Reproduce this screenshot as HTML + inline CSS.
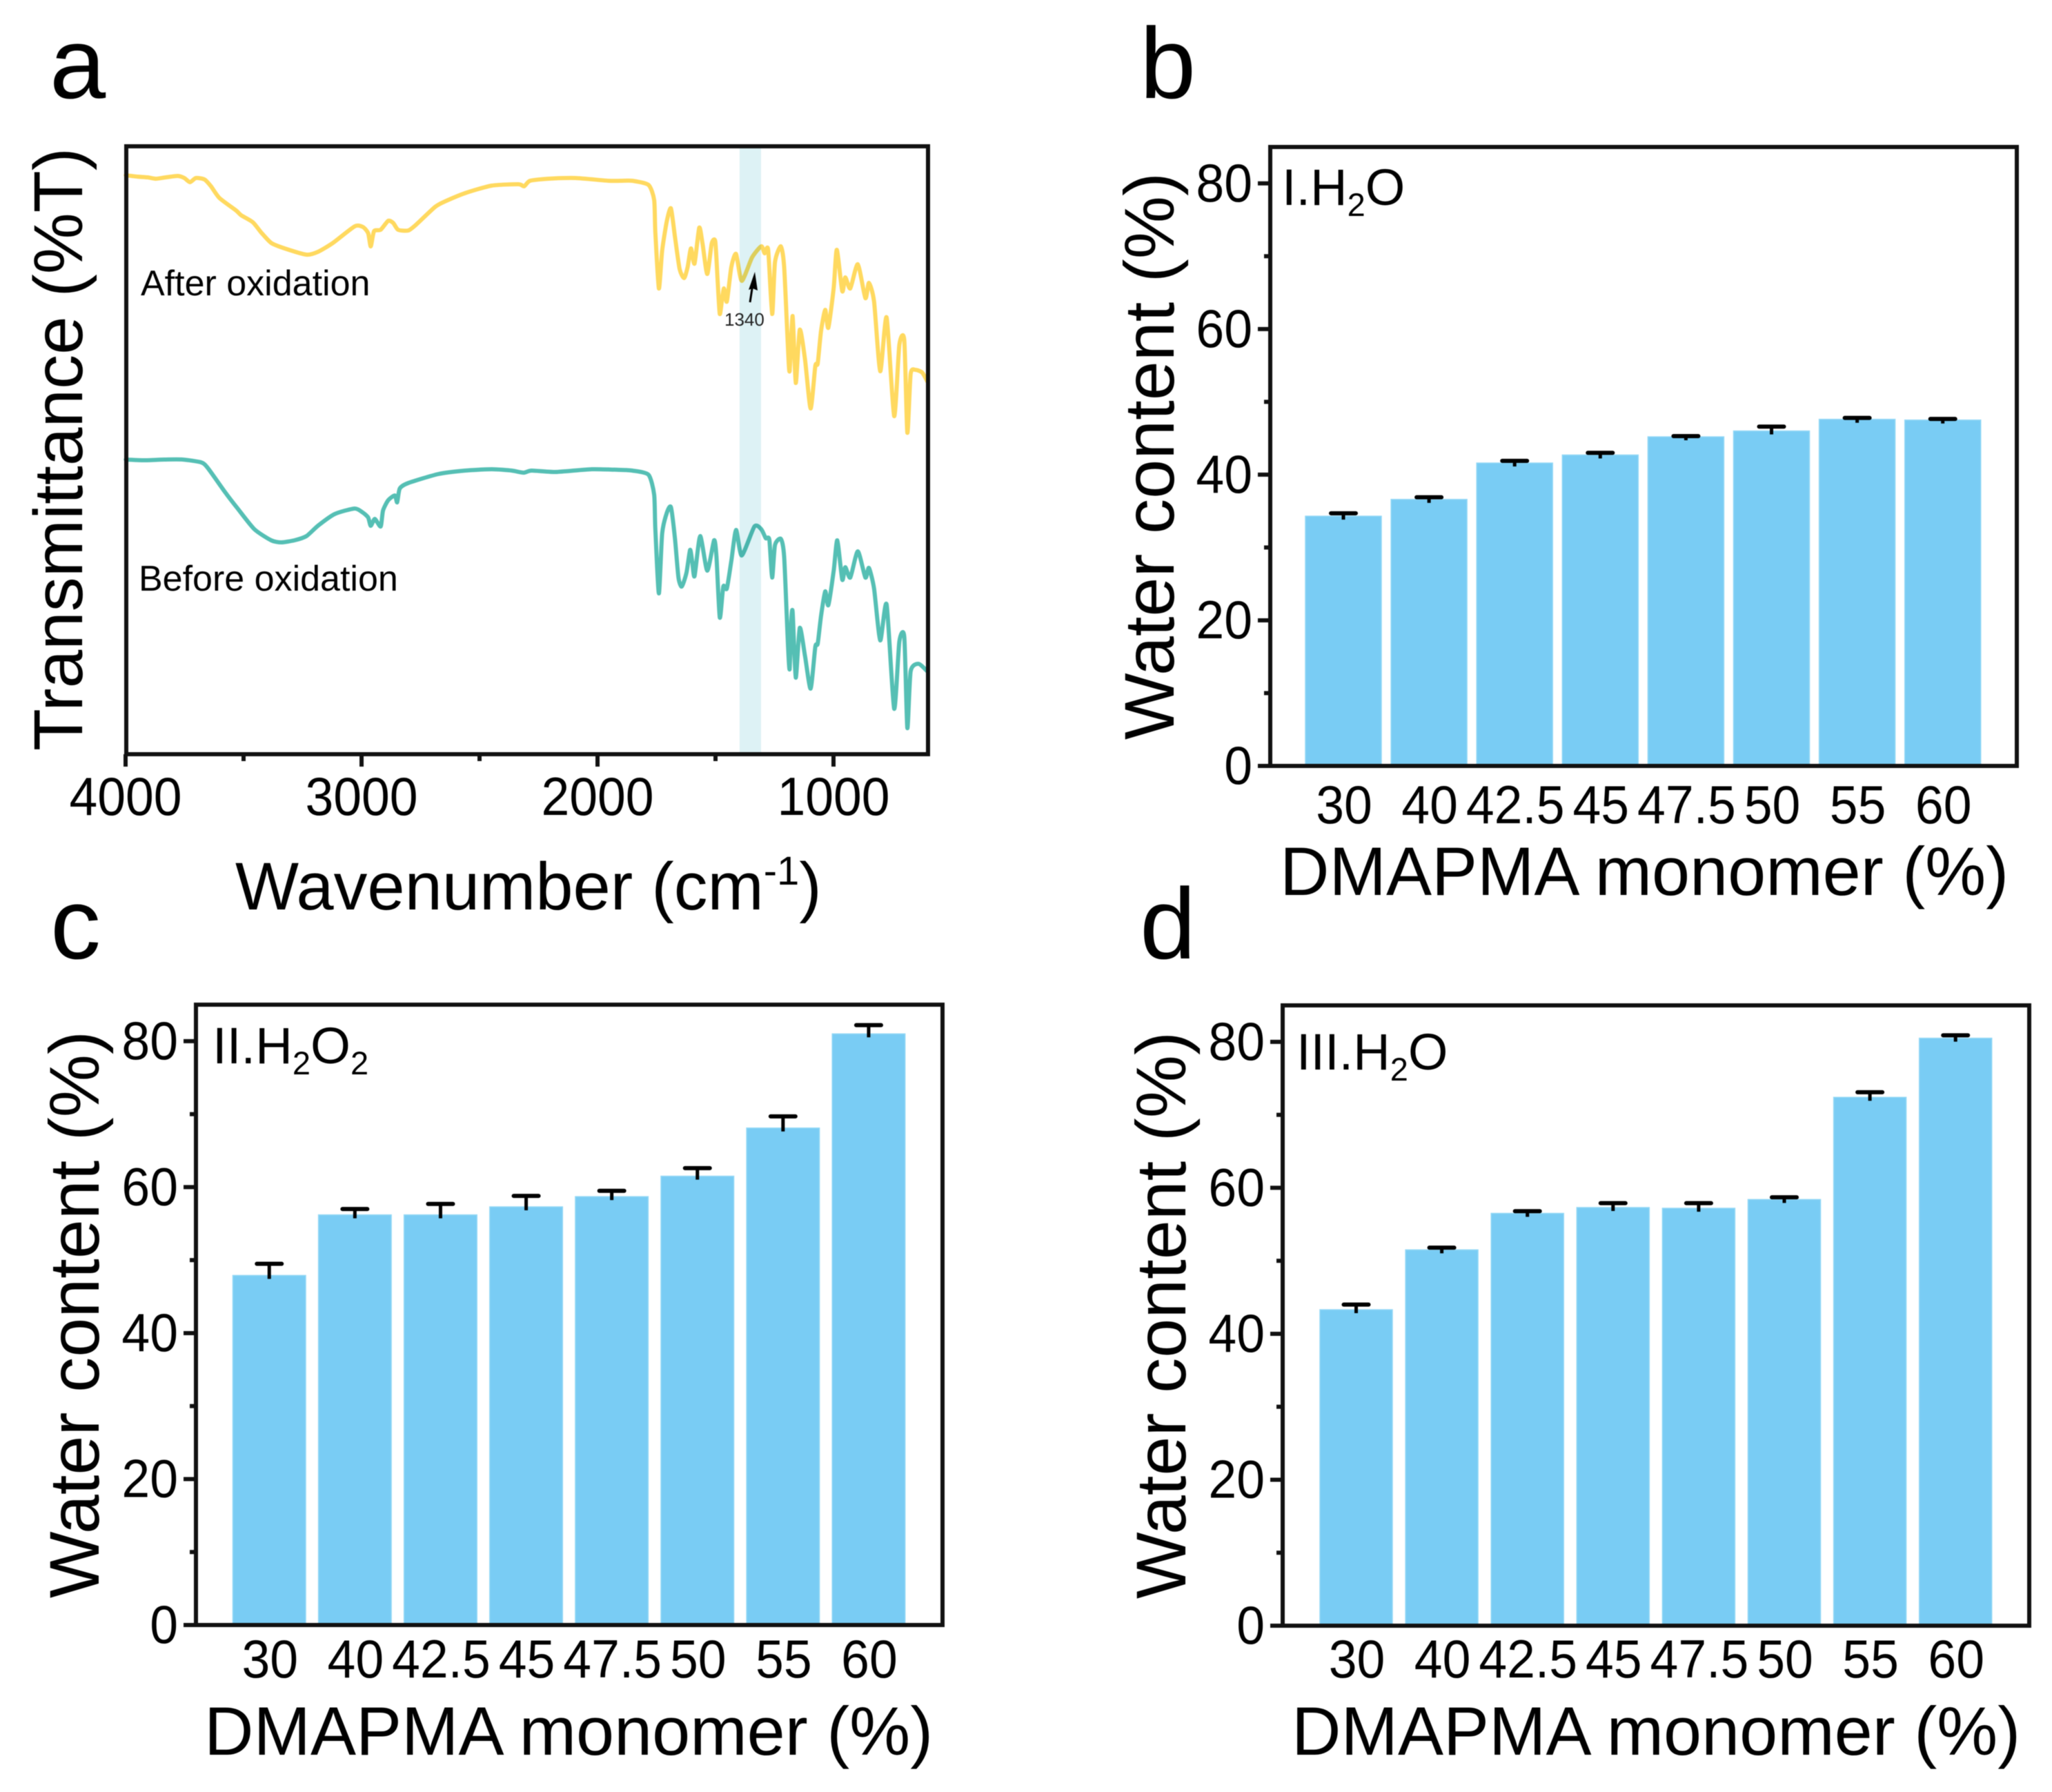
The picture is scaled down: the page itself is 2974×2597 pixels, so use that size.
<!DOCTYPE html>
<html lang="en">
<head>
<meta charset="utf-8">
<title>Transmittance spectra and water content charts</title>
<style>
html,body{margin:0;padding:0;background:#fff;}
svg{display:block;font-family:"Liberation Sans",sans-serif;fill:#000;filter:blur(0.6px);}
</style>
</head>
<body>
<svg id="fig" xmlns="http://www.w3.org/2000/svg" width="2974" height="2597" viewBox="0 0 2974 2597">
  <rect x="0" y="0" width="2974" height="2597" fill="#fff"/>
  <text x="72" y="142" font-size="146">a</text>
  <text x="1652" y="142" font-size="146">b</text>
  <text x="73" y="1389" font-size="146">c</text>
  <text x="1652" y="1389" font-size="146">d</text>

  <g id="panel-a"></g>
  <g id="panel-b"></g>
  <g id="panel-c"></g>
  <g id="panel-d"></g>

  <text transform="translate(119,651) rotate(-90)" text-anchor="middle" font-size="100">Transmittance (%T)</text>
  <text x="341" y="1318" font-size="97.5">Wavenumber (cm<tspan font-size="58" dy="-36">-1</tspan><tspan dy="36">)</tspan></text>
  <text x="204" y="428" font-size="52">After oxidation</text>
  <text x="201" y="856" font-size="52">Before oxidation</text>
  <text x="1050" y="472" font-size="26" fill="#222">1340</text>
  <g>
    <line x1="1087" y1="438" x2="1091" y2="412" stroke="#000" stroke-width="3"/>
    <polygon points="1094,394 1098,421 1091,418 1085,420" fill="#000"/>
  </g>

  <text transform="translate(1701,661) rotate(-90)" text-anchor="middle" font-size="102.5">Water content (%)</text>
  <text x="1855" y="1297" font-size="99">DMAPMA monomer (%)</text>
  <text x="1858" y="297" font-size="74">I.H<tspan font-size="47" dy="16">2</tspan><tspan dy="-16">O</tspan></text>

  <text transform="translate(143,1905) rotate(-90)" text-anchor="middle" font-size="102.5">Water content (%)</text>
  <text x="296" y="2543" font-size="99">DMAPMA monomer (%)</text>
  <text x="308" y="1541" font-size="74.5">II.H<tspan font-size="47" dy="16">2</tspan><tspan dy="-16">O</tspan><tspan font-size="47" dy="16">2</tspan></text>

  <text transform="translate(1718,1906) rotate(-90)" text-anchor="middle" font-size="102.5">Water content (%)</text>
  <text x="1872" y="2543" font-size="99">DMAPMA monomer (%)</text>
  <text x="1879" y="1550" font-size="74">III.H<tspan font-size="47" dy="16">2</tspan><tspan dy="-16">O</tspan></text>
</svg>
<script>
// ---- Panel a: FTIR spectra ----
const wavenumberAfter = [3999,3949,3907,3871,3829,3779,3751,3727,3702,3666,3638,3602,3532,3510,3461,3425,3383,3326,3234,3185,3121,3029,2994,2972,2961,2947,2919,2887,2866,2845,2802,2767,2689,2647,2562,2448,2335,2311,2286,2208,2094,1953,1901,1852,1784,1760,1755,1740,1726,1706,1689,1672,1652,1633,1618,1604,1589,1569,1555,1535,1516,1501,1491,1482,1472,1464,1452,1433,1413,1389,1345,1306,1292,1277,1260,1248,1223,1209,1194,1186,1173,1160,1143,1121,1097,1077,1067,1053,1035,1022,999,986,963,950,929,897,865,850,828,802,775,743,721,700,687,673,653,624,602];
const transmittanceAfter = [839,837,836,834,836,838,835,829,835,833,823,806,788,781,771,756,741,733,724,728,741,765,764,755,736,758,760,773,770,760,759,768,793,801,813,824,826,823,831,834,835,831,831,831,825,803,756,675,730,773,791,750,703,690,706,733,711,763,740,696,740,743,686,638,660,675,656,706,725,686,720,736,726,731,638,713,736,706,596,555,635,538,615,573,501,563,566,613,644,618,676,731,671,691,675,710,661,683,656,555,633,490,593,600,466,551,557,553,540];
const wavenumberBefore = [3999,3921,3836,3758,3680,3652,3581,3525,3454,3383,3340,3284,3234,3185,3114,3029,2994,2972,2961,2944,2919,2909,2887,2859,2849,2838,2802,2675,2562,2448,2363,2314,2279,2179,2024,1901,1852,1784,1760,1755,1740,1726,1706,1689,1672,1657,1643,1623,1608,1599,1589,1565,1535,1506,1496,1482,1467,1452,1433,1413,1389,1335,1306,1287,1272,1260,1248,1223,1209,1194,1186,1179,1173,1160,1143,1121,1097,1077,1067,1053,1035,1022,999,984,963,950,929,897,865,850,828,802,775,743,721,700,687,673,640,602];
const transmittanceBefore = [427,426,427,427,423,415,381,356,326,310,307,310,316,331,348,356,350,343,331,341,330,353,368,375,365,385,393,406,411,413,411,408,411,409,413,412,411,405,376,326,233,320,350,358,313,256,243,263,296,280,258,316,266,310,286,198,243,240,280,325,288,330,326,313,311,256,303,312,286,166,123,193,206,111,183,143,95,156,160,200,236,216,266,310,253,271,256,294,256,270,240,165,217,66,163,170,38,120,131,120];
const wavenumberTicks = [4000,3000,2000,1000];
const wavenumberMinorTicks = [3500,2500,1500];
const highlightBand = [1398,1307];

// ---- Panels b, c, d: water content bars ----
const monomerCategories = ['30','40','42.5','45','47.5','50','55','60'];
const waterTicks = [0,20,40,60,80];
const waterMinorTicks = [10,30,50,70];
const waterB = [34.3,36.6,41.6,42.7,45.2,46.0,47.6,47.5];
const errorB = [0.4,0.3,0.3,0.3,0.1,0.6,0.2,0.15];
const waterC = [47.9,56.2,56.2,57.3,58.7,61.5,68.1,81.0];
const errorC = [1.6,0.8,1.5,1.5,0.8,1.1,1.6,1.2];
const waterD = [43.3,51.5,56.5,57.3,57.2,58.4,72.4,80.5];
const errorD = [0.7,0.3,0.3,0.6,0.7,0.3,0.7,0.4];

const NS = 'http://www.w3.org/2000/svg';
function mk(parent, tag, attrs) {
  const el = document.createElementNS(NS, tag);
  for (const k in attrs) el.setAttribute(k, attrs[k]);
  parent.appendChild(el);
  return el;
}
// Tick numerals in the figure are slightly condensed: tall digits, narrower advance.
function condense(el) {
  el.setAttribute('textLength', (el.getComputedTextLength() * 0.94).toFixed(1));
  el.setAttribute('lengthAdjust', 'spacingAndGlyphs');
}

function drawSpectrum() {
  const g = document.getElementById('panel-a');
  const L = 183, R = 1345, T = 212, B = 1093;
  const x = v => 182 + (4000 - v) * 0.342;
  const y = h => B - h * (B - T) / 881;

  function curve(xs, ys, color, width, name) {
    const pts = xs.map((v, i) => [x(v), y(ys[i])]);
    let d = 'M' + pts[0][0].toFixed(1) + ' ' + pts[0][1].toFixed(1);
    for (let i = 0; i < pts.length - 1; i++) {
      const p0 = pts[Math.max(i - 1, 0)], p1 = pts[i], p2 = pts[i + 1], p3 = pts[Math.min(i + 2, pts.length - 1)];
      const c1x = p1[0] + (p2[0] - p0[0]) / 9, c1y = p1[1] + (p2[1] - p0[1]) / 9;
      const c2x = p2[0] - (p3[0] - p1[0]) / 9, c2y = p2[1] - (p3[1] - p1[1]) / 9;
      d += 'C' + c1x.toFixed(1) + ' ' + c1y.toFixed(1) + ' ' + c2x.toFixed(1) + ' ' + c2y.toFixed(1) + ' ' + p2[0].toFixed(1) + ' ' + p2[1].toFixed(1);
    }
    const p = mk(g, 'path', {d: d, fill: 'none', stroke: color, 'stroke-width': width, 'stroke-linejoin': 'round', 'stroke-linecap': 'round'});
    
    
  }
  curve(wavenumberAfter, transmittanceAfter, '#FFD95F', 6, 'after-oxidation-line');
  curve(wavenumberBefore, transmittanceBefore, '#55BFB4', 6, 'before-oxidation-line');

  const band = mk(g, 'rect', {x: x(highlightBand[0]), y: T, width: x(highlightBand[1]) - x(highlightBand[0]), height: B - T, fill: '#DDF2F5', style: 'mix-blend-mode:multiply'});
  
  

  const frame = mk(g, 'rect', {x: L, y: T, width: R - L, height: B - T, fill: 'none', stroke: '#111', 'stroke-width': 6});
  
  

  wavenumberTicks.forEach(v => {
    const t = mk(g, 'line', {x1: x(v), x2: x(v), y1: B, y2: B + 18, stroke: '#111', 'stroke-width': 6});
    
    
    const l = mk(g, 'text', {x: x(v), y: 1181, 'text-anchor': 'middle', 'font-size': 78});
    l.textContent = v;
    
    
    condense(l);
  });
  wavenumberMinorTicks.forEach(v => {
    const t = mk(g, 'line', {x1: x(v), x2: x(v), y1: B, y2: B + 10, stroke: '#111', 'stroke-width': 6});
    
    
  });
}

function drawBars(id, values, errors, box, suffix) {
  const g = document.getElementById(id);
  const y = v => box.bottom - v * (box.bottom - box.top) / 85;
  const x = i => box.firstLeft + i * 124.1;

  values.forEach((v, i) => {
    const r = mk(g, 'rect', {x: x(i), y: y(v), width: box.barWidth, height: box.bottom - y(v), fill: '#79CCF4', stroke: '#93D8F6', 'stroke-width': 1.5});
    
    

    const cx = x(i) + box.barWidth / 2;
    const stem = mk(g, 'line', {x1: cx, x2: cx, y1: y(v) + 5, y2: y(v + errors[i]), stroke: '#000', 'stroke-width': 5});
    
    
    const cap = mk(g, 'line', {x1: cx - 18, x2: cx + 18, y1: y(v + errors[i]), y2: y(v + errors[i]), stroke: '#000', 'stroke-width': 6, 'stroke-linecap': 'round'});
    
    

    const lab = mk(g, 'text', {x: cx + 1, y: box.labelY, 'text-anchor': 'middle', 'font-size': 78});
    lab.textContent = monomerCategories[i];
    
    
    condense(lab);
  });

  const frame = mk(g, 'rect', {x: box.left, y: box.top, width: box.right - box.left, height: box.bottom - box.top, fill: 'none', stroke: '#111', 'stroke-width': 6});
  
  

  waterTicks.forEach(v => {
    const t = mk(g, 'line', {x1: box.left - 18, x2: box.left, y1: y(v), y2: y(v), stroke: '#111', 'stroke-width': 6});
    
    
    const l = mk(g, 'text', {x: box.left - 26, y: y(v) + 26, 'text-anchor': 'end', 'font-size': 78});
    l.textContent = v;
    
    
    condense(l);
  });
  waterMinorTicks.forEach(v => {
    const t = mk(g, 'line', {x1: box.left - 9, x2: box.left, y1: y(v), y2: y(v), stroke: '#111', 'stroke-width': 6});
    
    
  });
}

drawSpectrum();
drawBars('panel-b', waterB, errorB, {left: 1841, right: 2923, top: 213, bottom: 1110, firstLeft: 1892, barWidth: 110, labelY: 1193}, 'b');
drawBars('panel-c', waterC, errorC, {left: 284, right: 1366, top: 1456, bottom: 2355, firstLeft: 337.5, barWidth: 105.5, labelY: 2431}, 'c');
drawBars('panel-d', waterD, errorD, {left: 1859, right: 2941, top: 1457, bottom: 2356, firstLeft: 1913, barWidth: 105, labelY: 2431}, 'd');
</script>
</body>
</html>
